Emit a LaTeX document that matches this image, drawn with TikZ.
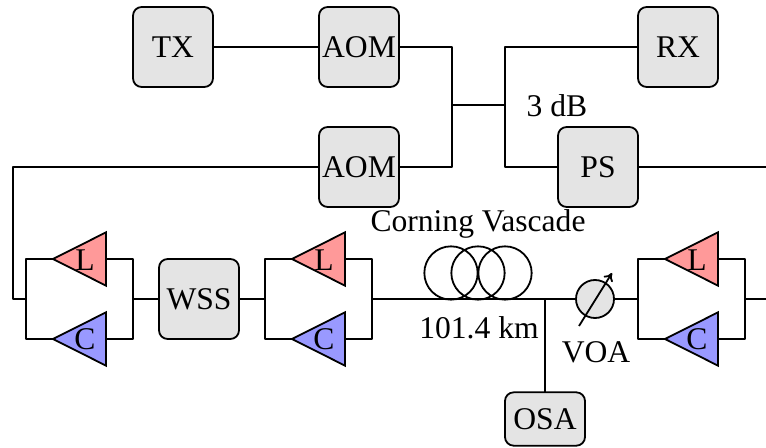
\documentclass[tikz,border=0pt]{standalone}
\usepackage{fontspec}
\setmainfont{Liberation Serif}
\usetikzlibrary{shapes.geometric,arrows.meta}
\tikzset{
  wire/.style={line width=1.35pt,line join=round},
  devbox/.style={draw,line width=1.35pt,fill=boxgray,rounded corners=6.5pt,minimum width=60pt,minimum height=60pt,inner sep=0pt,outer sep=0pt},
  shortbox/.style={devbox,minimum height=40pt},
  amp/.style={draw,line width=1.35pt,isosceles triangle,isosceles triangle stretches,shape border rotate=180,minimum width=40pt,minimum height=39.75pt,inner sep=0pt,outer sep=0pt,anchor=apex,line join=miter},
  lbl/.style={inner sep=0pt,outer sep=0pt},
}
\definecolor{boxgray}{HTML}{E4E4E4}
\definecolor{lband}{HTML}{FF9999}
\definecolor{cband}{HTML}{9999FF}
\begin{document}
\begin{tikzpicture}[x=0.75pt,y=-0.75pt,font=\fontsize{23.7}{27}\selectfont]
\useasboundingbox (0,0) rectangle (766,448);
% boxes
\node[devbox] (tx) at (173,47) {TX};
\node[devbox] (aom1) at (359,47) {AOM};
\node[devbox] (aom2) at (359,167) {AOM};
\node[devbox] (rx) at (678,47) {RX};
\node[devbox] (ps) at (598,167) {PS};
\node[devbox] (wss) at (199,299) {WSS};
\node[shortbox] (osa) at (545,419) {OSA};
% coupler junctions
\coordinate (j1) at (452,105);
\coordinate (j2) at (505,105);
\coordinate (rend) at (766,167);
\coordinate (lbend) at (13,167);
\coordinate (tap) at (545,299);
\coordinate (iend) at (766,299);
\draw[wire] (tx) -- (aom1);
\draw[wire] (aom1.east) -| (j1) |- (aom2.east);
\draw[wire] (j1) -- (j2);
\draw[wire] (rx.west) -| (j2) |- (ps.west);
\draw[wire] (ps.east) -- (rend);
% amplifier stages
\foreach \n/\x in {a/26,b/265,c/638}{
  \coordinate (in\n) at (\x,299);
  \coordinate (out\n) at ({\x+107},299);
  \node[amp,fill=lband] (l\n) at ({\x+27},259) {};
  \node[amp,fill=cband] (c\n) at ({\x+27},339) {};
  \node[lbl] (ltxt\n) at ({\x+59},260) {L};
  \node[lbl] (ctxt\n) at ({\x+59},339) {C};
  \draw[wire] (l\n.apex) -| (in\n) |- (c\n.apex);
  \draw[wire] (l\n.east) -| (out\n) |- (c\n.east);
}
\draw[wire] (aom2.west) -| (lbend) |- (ina);
\draw[wire] (outa) -- (wss);
\draw[wire] (wss) -- (inb);
% fibre coils
\node[draw,circle,line width=1.35pt,minimum size=40pt,inner sep=0pt,outer sep=0pt] (coil1) at (451,273) {};
\node[draw,circle,line width=1.35pt,minimum size=40pt,inner sep=0pt,outer sep=0pt] (coil2) at (478,273) {};
\node[draw,circle,line width=1.35pt,minimum size=40pt,inner sep=0pt,outer sep=0pt] (coil3) at (505,273) {};
% VOA
\node[draw,circle,line width=1.35pt,fill=boxgray,minimum size=28.5pt,inner sep=0pt,outer sep=0pt] (voa) at (595,299) {};
\coordinate (vs) at (579,326);
\coordinate (ve) at (612,273);
\draw[wire] (outb) -- (voa);
\draw[wire] (voa) -- (inc);
\draw[wire] (outc) -- (iend);
\draw[wire] (tap) -- (osa);
\draw[wire,-{To[length=6pt,width=8pt]}] (vs) -- (ve);
% labels
\node[lbl] (t1) at (478,223.5) {Corning Vascade};
\node[lbl] (t2) at (479,328) {101.4 km};
\node[lbl] (t3) at (596,352) {VOA};
\node[lbl] (t4) at (557,106) {3 dB};
\end{tikzpicture}
\end{document}
